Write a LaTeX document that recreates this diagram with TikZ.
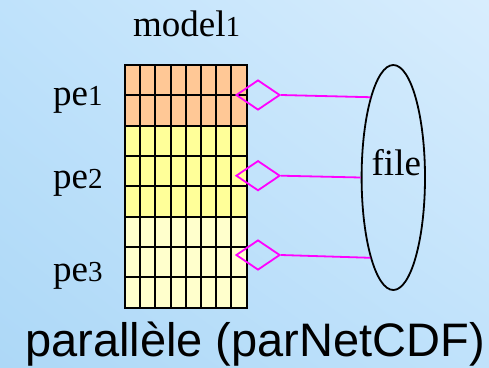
\documentclass[tikz,border=0pt]{standalone}
\usepackage{fontspec}
\setmainfont{Liberation Serif}
\newfontfamily\arialfont{Liberation Sans}
\usetikzlibrary{shapes.geometric,shadings}

\definecolor{bgLL}{HTML}{ADD8F7}
\definecolor{bgUL}{HTML}{BFE2FB}
\definecolor{bgUR}{HTML}{D8EDFD}
\definecolor{bgLR}{HTML}{C0E2FB}
\definecolor{peA}{HTML}{FFC896}
\definecolor{peB}{HTML}{FFFF99}
\definecolor{peC}{HTML}{FFFFCC}
\definecolor{link}{HTML}{FF00FF}

\tikzset{
  label text/.style={inner sep=0pt, font=\fontsize{37}{40}\selectfont},
  gridline/.style={draw=black, line width=2pt},
  port/.style={shape=diamond, draw=link, line width=1.8pt, inner sep=0pt,
               minimum width=44pt, minimum height=30pt},
  link line/.style={draw=link, line width=1.8pt},
  store/.style={shape=ellipse, draw=black, line width=1.8pt, inner sep=0pt,
                minimum width=63.4pt, minimum height=225pt}
}
\newcommand{\digit}[1]{{\fontsize{29}{30}\selectfont #1}}

\begin{document}
\begin{tikzpicture}[x=1pt,y=-1pt]
  % background
  \shade[upper left=bgUL, upper right=bgUR, lower left=bgLL, lower right=bgLR]
    (0,0) rectangle (489,367);
  \useasboundingbox (0,0) rectangle (489,367);

  % decomposed field: 8 columns x 8 rows, split over three processes
  \fill[peA] (125,65) rectangle (246.7,125.7);
  \fill[peB] (125,125.7) rectangle (246.7,216.7);
  \fill[peC] (125,216.7) rectangle (246.7,307.7);
  \foreach \i in {0,...,8} {
    \draw[gridline, line cap=rect] ({125+\i*15.2125},65) -- ({125+\i*15.2125},307.7);
    \draw[gridline, line cap=rect] (125,{65+\i*30.3375}) -- (246.7,{65+\i*30.3375});
  }

  % labels
  \node[label text, anchor=base west] (model) at (133,36.7) {model\digit{1}};
  \node[label text, anchor=base west] (pe1) at (53,105) {pe\digit{1}};
  \node[label text, anchor=base west] (pe2) at (53,188.3) {pe\digit{2}};
  \node[label text, anchor=base west] (pe3) at (53,281.7) {pe\digit{3}};

  % shared file
  \node[store] (file) at (393.3,177.5) {};
  \node[label text, anchor=base] (filename) at (396.3,175.7) {file};

  % per-process I/O ports
  \node[port] (p1) at (258,95) {};
  \node[port] (p2) at (258,175.7) {};
  \node[port] (p3) at (258,255) {};
  \draw[link line] (p1.east) -- (file.106);
  \draw[link line] (p2.east) -- (file.west);
  \draw[link line] (p3.east) -- (file.254);

  % caption
  \node[inner sep=0pt, anchor=base west, font=\arialfont\fontsize{47}{50}\selectfont]
    (caption) at (25,356.7) {parallèle (parNetCDF)};
\end{tikzpicture}
\end{document}
